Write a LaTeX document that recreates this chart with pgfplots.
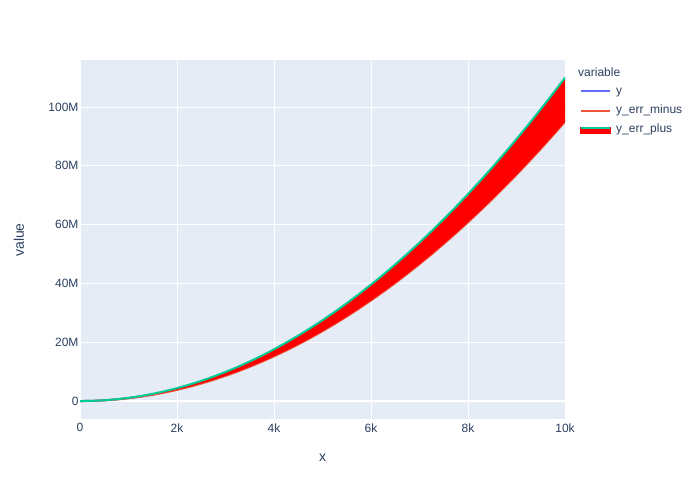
\documentclass[border=0pt]{standalone}
\usepackage{pgfplots}
\pgfplotsset{compat=1.18}
\usepackage{pgfplotstable}
\usepackage{fontspec}
\setmainfont{Liberation Sans}
\definecolor{bg}{HTML}{E5ECF6}
\definecolor{txt}{HTML}{2A3F5F}
\definecolor{pblue}{HTML}{636EFA}
\definecolor{pred}{HTML}{EF553B}
\definecolor{pgreen}{HTML}{00CC96}
\definecolor{fillred}{HTML}{FF0000}
\pgfplotstableread{
x y ym yp
0 0 0 0
250 0.0625 0.059375 0.06875
500 0.25 0.2375 0.275
750 0.5625 0.534375 0.61875
1000 1 0.95 1.1
1250 1.5625 1.484375 1.71875
1500 2.25 2.1375 2.475
1750 3.0625 2.909375 3.36875
2000 4 3.8 4.4
2250 5.0625 4.809375 5.56875
2500 6.25 5.9375 6.875
2750 7.5625 7.184375 8.31875
3000 9 8.55 9.9
3250 10.5625 10.034375 11.61875
3500 12.25 11.6375 13.475
3750 14.0625 13.359375 15.46875
4000 16 15.2 17.6
4250 18.0625 17.159375 19.86875
4500 20.25 19.2375 22.275
4750 22.5625 21.434375 24.81875
5000 25 23.75 27.5
5250 27.5625 26.184375 30.31875
5500 30.25 28.7375 33.275
5750 33.0625 31.409375 36.36875
6000 36 34.2 39.6
6250 39.0625 37.109375 42.96875
6500 42.25 40.1375 46.475
6750 45.5625 43.284375 50.11875
7000 49 46.55 53.9
7250 52.5625 49.934375 57.81875
7500 56.25 53.4375 61.875
7750 60.0625 57.059375 66.06875
8000 64 60.8 70.4
8250 68.0625 64.659375 74.86875
8500 72.25 68.6375 79.475
8750 76.5625 72.734375 84.21875
9000 81 76.95 89.1
9250 85.5625 81.284375 94.11875
9500 90.25 85.7375 99.275
9750 95.0625 90.309375 104.56875
10000 100 95 110
}\datatable
% band outline: y_err_plus forward, then y_err_minus backward
\pgfplotstableread{
x v
0 0
250 0.06875
500 0.275
750 0.61875
1000 1.1
1250 1.71875
1500 2.475
1750 3.36875
2000 4.4
2250 5.56875
2500 6.875
2750 8.31875
3000 9.9
3250 11.61875
3500 13.475
3750 15.46875
4000 17.6
4250 19.86875
4500 22.275
4750 24.81875
5000 27.5
5250 30.31875
5500 33.275
5750 36.36875
6000 39.6
6250 42.96875
6500 46.475
6750 50.11875
7000 53.9
7250 57.81875
7500 61.875
7750 66.06875
8000 70.4
8250 74.86875
8500 79.475
8750 84.21875
9000 89.1
9250 94.11875
9500 99.275
9750 104.56875
10000 110
10000 95
9750 90.309375
9500 85.7375
9250 81.284375
9000 76.95
8750 72.734375
8500 68.6375
8250 64.659375
8000 60.8
7750 57.059375
7500 53.4375
7250 49.934375
7000 46.55
6750 43.284375
6500 40.1375
6250 37.109375
6000 34.2
5750 31.409375
5500 28.7375
5250 26.184375
5000 23.75
4750 21.434375
4500 19.2375
4250 17.159375
4000 15.2
3750 13.359375
3500 11.6375
3250 10.034375
3000 8.55
2750 7.184375
2500 5.9375
2250 4.809375
2000 3.8
1750 2.909375
1500 2.1375
1250 1.484375
1000 0.95
750 0.534375
500 0.2375
250 0.059375
0 0
}\bandtable
\begin{document}
\begin{tikzpicture}
\begin{axis}[
  at={(80pt,81pt)}, anchor=south west,
  scale only axis, width=485pt, height=359pt,
  xmin=0, xmax=10000, ymin=-6.1, ymax=116,
  scaled x ticks=false, scaled y ticks=false,
  axis background/.style={fill=bg},
  axis line style={draw=none},
  major tick length=0pt,
  grid=major,
  grid style={white, line width=1pt},
  xtick={0,2000,4000,6000,8000,10000},
  xticklabels={0,2k,4k,6k,8k,10k},
  ytick={0,20,40,60,80,100},
  yticklabels={0,20M,40M,60M,80M,100M},
  /pgf/number format/assume math mode=true,
  tick label style={font=\fontsize{12}{14}\selectfont, text=txt},
  yticklabel style={xshift=2pt},
  xticklabel style={yshift=-1pt},
  xlabel={x}, ylabel={value},
  label style={font=\fontsize{14}{16}\selectfont, text=txt},
  xlabel style={at={(axis description cs:0.5,-0.1087)}, anchor=center},
  ylabel style={at={(axis description cs:-0.1258,0.4986)}, anchor=center},
  legend image code/.code={\draw[#1, line width=2pt] (0pt,0pt) -- (29pt,0pt);},
  legend style={at={(axis description cs:1.0309,0.933)}, anchor=north west,
    draw=none, fill=none, inner sep=0pt, row sep=5.3pt, column sep=4pt,
    font=\fontsize{12}{14}\selectfont, text=txt,
    nodes={inner sep=1pt, text height=9pt, text depth=3pt}},
  legend cell align=left,
]
\addplot[white, line width=2pt, forget plot] coordinates {(0,0) (10000,0)};
\addplot[pblue, line width=2pt] table[x=x, y=y] {\datatable};
\addlegendentry{y}
\addplot[pred, line width=2pt] table[x=x, y=ym] {\datatable};
\addlegendentry{y\_err\_minus}
\addplot[fill=fillred, draw=none, forget plot] table[x=x, y=v] {\bandtable} -- cycle;
\addplot[pgreen, line width=2pt, legend image code/.code={\fill[fillred] (0pt,-3pt) rectangle (29pt,1.5pt); \draw[pgreen, line width=2pt] (0pt,1.5pt) -- (29pt,1.5pt);}] table[x=x, y=yp] {\datatable};
\addlegendentry{y\_err\_plus}
\end{axis}
\node[anchor=west, font=\fontsize{12}{14}\selectfont, text=txt, inner sep=0pt] at (578pt,428pt) {variable};
\path[use as bounding box] (0pt,0pt) rectangle (700pt,500pt);
\end{tikzpicture}
\end{document}
